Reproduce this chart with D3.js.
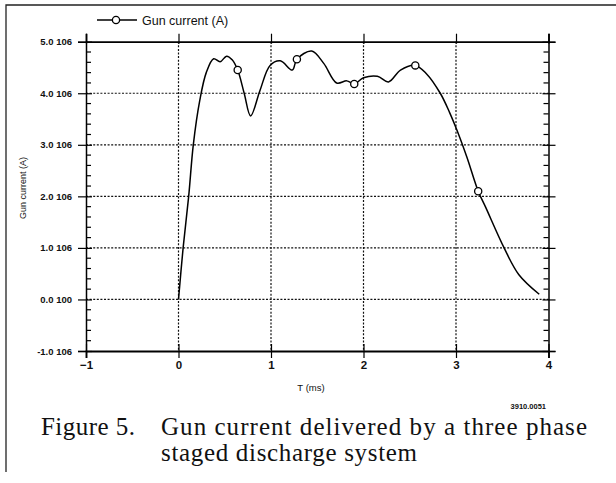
<!DOCTYPE html>
<html>
<head>
<meta charset="utf-8">
<script src="https://cdn.jsdelivr.net/npm/d3@7"></script>
<style>
  body { margin: 0; background: #fff; }
  svg { display: block; }
  .tick text { font-family: "Liberation Sans", Arial, sans-serif; }
</style>
</head>
<body>
<svg id="chart" width="616" height="483"></svg>
<script>
// curve (t in ms, current in units of 1e6 A)
const times = [0, 0.05, 0.11, 0.16, 0.23, 0.3, 0.38, 0.45, 0.52, 0.58, 0.64, 0.71, 0.78, 0.88, 0.99, 1.1, 1.23, 1.28, 1.44, 1.57, 1.71, 1.82, 1.9, 2.0, 2.15, 2.27, 2.4, 2.56, 2.68, 2.83, 2.93, 3.02, 3.12, 3.24, 3.32, 3.52, 3.68, 3.9];
const current = [0, 1.0, 2.0, 3.0, 3.86, 4.4, 4.67, 4.61, 4.72, 4.65, 4.45, 4.0, 3.56, 4.05, 4.54, 4.63, 4.45, 4.66, 4.82, 4.58, 4.2, 4.24, 4.18, 4.3, 4.33, 4.22, 4.45, 4.54, 4.38, 4.0, 3.63, 3.24, 2.75, 2.1, 1.79, 1.0, 0.48, 0.1];
const markerTimes = [0.64, 1.28, 1.9, 2.56, 3.24];
const markerCurrent = [4.45, 4.66, 4.18, 4.54, 2.1];

const xTicks = [-1, 0, 1, 2, 3, 4];
const yTicks = [-1, 0, 1, 2, 3, 4, 5];
const yTickLabels = ["-1.0 106", "0.0 100", "1.0 106", "2.0 106", "3.0 106", "4.0 106", "5.0 106"];

const svg = d3.select("#chart");
const x = d3.scaleLinear().domain([-1, 4]).range([86, 548.5]);
const y = d3.scaleLinear().domain([-1, 5]).range([351, 41.7]);

// outer frame (top and left edges only are visible in the scan)
svg.append("path")
  .attr("d", "M6,472V5H616")
  .attr("fill", "none").attr("stroke", "#222").attr("stroke-width", 1.3);

// dotted grid
const grid = svg.append("g").attr("stroke", "#111").attr("stroke-width", 1.2).attr("stroke-dasharray", "2,1.6");
grid.selectAll("line.v").data(xTicks.slice(1, -1)).enter().append("line")
  .attr("x1", d => x(d)).attr("x2", d => x(d)).attr("y1", y(5)).attr("y2", y(-1));
grid.selectAll("line.h").data(yTicks.slice(1, -1)).enter().append("line")
  .attr("x1", x(-1)).attr("x2", x(4)).attr("y1", d => y(d)).attr("y2", d => y(d));

// minor ticks every 0.2e6 on left/right axes
const minor = d3.range(-1, 5.01, 0.2).filter(v => Math.abs(v - Math.round(v)) > 0.01);

// left axis
const leftAxis = svg.append("g").attr("transform", `translate(${x(-1)},0)`)
  .call(d3.axisLeft(y).tickValues(yTicks).tickFormat((d, i) => yTickLabels[i]).tickSize(8).tickPadding(6));
leftAxis.selectAll(".tick line").attr("x2", -8).attr("x1", 6);
leftAxis.selectAll(".tick text").attr("font-size", 9.5).attr("fill", "#111").attr("font-weight", "bold");
leftAxis.select(".domain").attr("stroke-width", 1.5);
leftAxis.selectAll("line.mn").data(minor).enter().append("line")
  .attr("x1", 0).attr("x2", 5).attr("y1", d => y(d)).attr("y2", d => y(d))
  .attr("stroke", "#000").attr("stroke-width", 1.2);

// right axis
const rightAxis = svg.append("g").attr("transform", `translate(${x(4)},0)`)
  .call(d3.axisRight(y).tickValues(yTicks).tickFormat("").tickSize(7));
rightAxis.selectAll(".tick line").attr("x1", -6);
rightAxis.select(".domain").attr("stroke-width", 1.5);
rightAxis.selectAll("line.mn").data(minor).enter().append("line")
  .attr("x1", -5).attr("x2", 0).attr("y1", d => y(d)).attr("y2", d => y(d))
  .attr("stroke", "#000").attr("stroke-width", 1.2);

// bottom axis
const bottomAxis = svg.append("g").attr("transform", `translate(0,${y(-1)})`)
  .call(d3.axisBottom(x).tickValues(xTicks).tickFormat(d3.format("d")).tickSize(7).tickPadding(3));
bottomAxis.selectAll(".tick line").attr("y1", -7);
bottomAxis.selectAll(".tick text").attr("font-size", 11.5).attr("font-weight", "bold").attr("fill", "#111");
bottomAxis.select(".domain").attr("stroke-width", 1.8);

// top axis
const topAxis = svg.append("g").attr("transform", `translate(0,${y(5)})`)
  .call(d3.axisTop(x).tickValues(xTicks).tickFormat("").tickSize(8));
topAxis.selectAll(".tick line").attr("y1", 2);
topAxis.select(".domain").attr("stroke-width", 1.8);

svg.selectAll(".domain").attr("stroke", "#000");
svg.selectAll(".tick line").attr("stroke", "#000").attr("stroke-width", 1.2);

// curve
const pts = times.map((t, i) => [t, current[i]]);
const line = d3.line().x(d => x(d[0])).y(d => y(d[1])).curve(d3.curveCatmullRom.alpha(0.5));
svg.append("path").datum(pts).attr("d", line)
  .attr("fill", "none").attr("stroke", "#000").attr("stroke-width", 1.5);

svg.selectAll("circle.mk").data(markerTimes).enter().append("circle")
  .attr("cx", d => x(d)).attr("cy", (d, i) => y(markerCurrent[i])).attr("r", 3.6)
  .attr("fill", "#fff").attr("stroke", "#000").attr("stroke-width", 1.3);

// legend
const lg = svg.append("g");
lg.append("line").attr("x1", 97).attr("x2", 137).attr("y1", 20).attr("y2", 20)
  .attr("stroke", "#000").attr("stroke-width", 1.5);
lg.append("circle").attr("cx", 116).attr("cy", 20).attr("r", 3.6)
  .attr("fill", "#fff").attr("stroke", "#000").attr("stroke-width", 1.3);
lg.append("text").attr("x", 142).attr("y", 24.5).text("Gun current (A)")
  .attr("font-family", "Liberation Sans, Arial, sans-serif").attr("font-size", 12.5).attr("fill", "#111");

// axis titles
svg.append("text").attr("transform", "translate(26,188) rotate(-90)")
  .attr("text-anchor", "middle").attr("font-family", "Liberation Sans, Arial, sans-serif")
  .attr("font-size", 9).attr("fill", "#111").text("Gun current (A)");
svg.append("text").attr("x", 311).attr("y", 391).attr("text-anchor", "middle")
  .attr("font-family", "Liberation Sans, Arial, sans-serif").attr("font-size", 9.5)
  .attr("fill", "#111").text("T (ms)");
svg.append("text").attr("x", 546).attr("y", 409).attr("text-anchor", "end")
  .attr("font-family", "Liberation Sans, Arial, sans-serif").attr("font-size", 7.5)
  .attr("font-weight", "bold").attr("fill", "#111").text("3910.0051");

// caption
const cap = svg.append("g").attr("font-family", "Liberation Serif, Times New Roman, serif")
  .attr("font-size", 25).attr("fill", "#111");
cap.append("text").attr("x", 41).attr("y", 435).attr("textLength", 94).attr("lengthAdjust", "spacing").text("Figure 5.");
cap.append("text").attr("x", 161).attr("y", 435).attr("textLength", 426).attr("lengthAdjust", "spacing").text("Gun current delivered by a three phase");
cap.append("text").attr("x", 161).attr("y", 461).attr("textLength", 256).attr("lengthAdjust", "spacing").text("staged discharge system");
</script>
</body>
</html>
